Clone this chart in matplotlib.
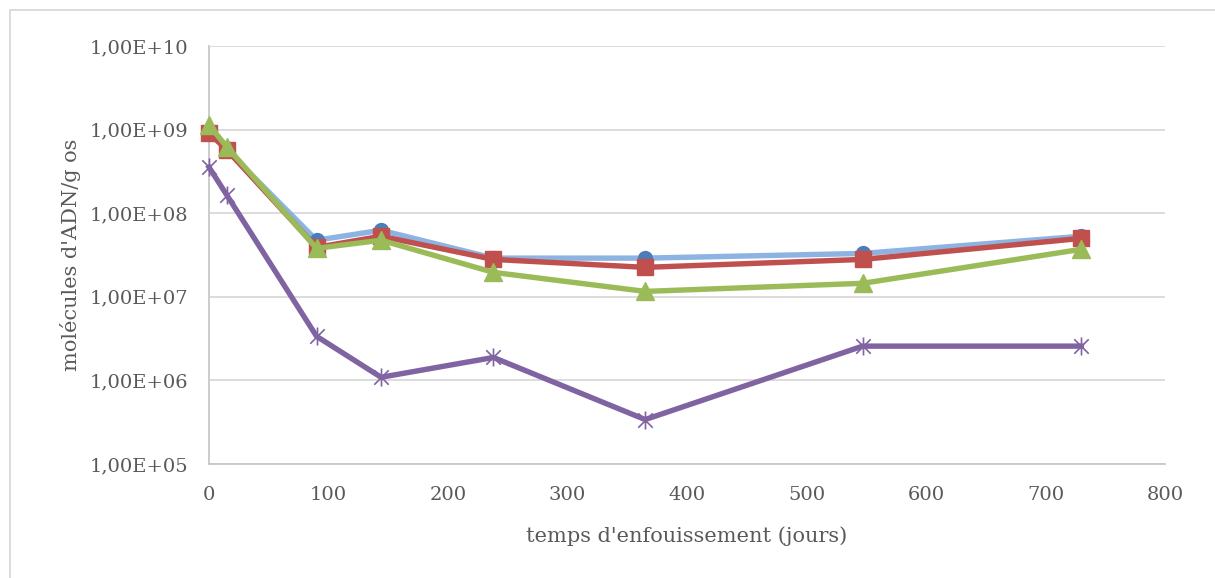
import numpy as np
import matplotlib
matplotlib.use("Agg")
import matplotlib.pyplot as plt
from matplotlib.path import Path
from matplotlib.lines import Line2D
from matplotlib.ticker import FixedLocator, FuncFormatter

plt.rcParams['font.family'] = ['DejaVu Serif']

# jours d'enfouissement
jours = [0, 15, 90, 144, 238, 365, 547, 730]

# molécules d'ADN / g os, une série par cible
serie_bleue = [9.4e8, 5.7e8, 4.75e7, 6.25e7, 2.9e7, 2.9e7, 3.3e7, 5.3e7]
serie_rouge = [9.1e8, 5.7e8, 3.9e7, 5.3e7, 2.8e7, 2.25e7, 2.8e7, 5.0e7]
serie_verte = [1.13e9, 6.2e8, 3.8e7, 4.75e7, 1.96e7, 1.16e7, 1.45e7, 3.7e7]
serie_violette = [3.55e8, 1.64e8, 3.37e6, 1.09e6, 1.88e6, 3.4e5, 2.57e6, 2.57e6]

y_ticks = [1e5, 1e6, 1e7, 1e8, 1e9, 1e10]
x_ticks = [0, 100, 200, 300, 400, 500, 600, 700, 800]

# marqueur étoile façon Excel : un x plus un trait vertical
star = Path(
    [(-1, -1), (1, 1), (-1, 1), (1, -1), (0, -1.25), (0, 1.25)],
    [Path.MOVETO, Path.LINETO, Path.MOVETO, Path.LINETO, Path.MOVETO, Path.LINETO],
)

fig = plt.figure(figsize=(12.15, 5.78), dpi=100)
ax = fig.add_axes([209 / 1215, 1 - 464 / 578, (1165 - 209) / 1215, (464 - 46) / 578])

lw = 3.9
ax.plot(jours, serie_bleue, color='#8db3e2', lw=lw, marker='o', ms=10,
        mfc='#4a7ebb', mec='#4a7ebb', zorder=3, clip_on=False)
ax.plot(jours, serie_rouge, color='#c0504d', lw=lw, marker='s', ms=12,
        mfc='#c0504d', mec='#c0504d', zorder=4, clip_on=False)
ax.plot(jours, serie_verte, color='#9bbb59', lw=lw, marker='^', ms=13,
        mfc='#9bbb59', mec='#9bbb59', zorder=5, clip_on=False)
ax.plot(jours, serie_violette, color='#8064a2', lw=lw, marker=star, ms=13,
        mec='#8064a2', mew=1.2, zorder=6, clip_on=False)

ax.set_yscale('log')
ax.set_ylim(1e5, 1e10)
ax.set_xlim(0, 800)
ax.yaxis.set_major_locator(FixedLocator(y_ticks))
ax.yaxis.set_minor_locator(FixedLocator([]))
ax.yaxis.set_major_formatter(FuncFormatter(
    lambda v, p: ('%.2fE+%02d' % (1.0, int(round(np.log10(v))))).replace('.', ',')))
ax.set_xticks(x_ticks)

ax.grid(axis='y', color='#d9d9d9', lw=1.3)
ax.set_axisbelow(True)
for s in ['top', 'right']:
    ax.spines[s].set_visible(False)
for s in ['left', 'bottom']:
    ax.spines[s].set_color('#c8c8c8')
    ax.spines[s].set_linewidth(1.3)

ax.tick_params(length=0, labelsize=14, colors='#595959')
ax.tick_params(axis='y', pad=15)
ax.tick_params(axis='x', pad=16)
ax.set_xlabel("temps d'enfouissement (jours)", fontsize=15, color='#595959', labelpad=16)
ax.set_ylabel("molécules d'ADN/g os", fontsize=15, color='#595959', labelpad=6)

# cadre gris clair autour du graphique
fig.add_artist(Line2D([10 / 1215, 1], [1 - 10 / 578] * 2, color='#d9d9d9', lw=1.3))
fig.add_artist(Line2D([10 / 1215] * 2, [0, 1 - 10 / 578], color='#d9d9d9', lw=1.3))

fig.savefig('out.png', dpi=100)
